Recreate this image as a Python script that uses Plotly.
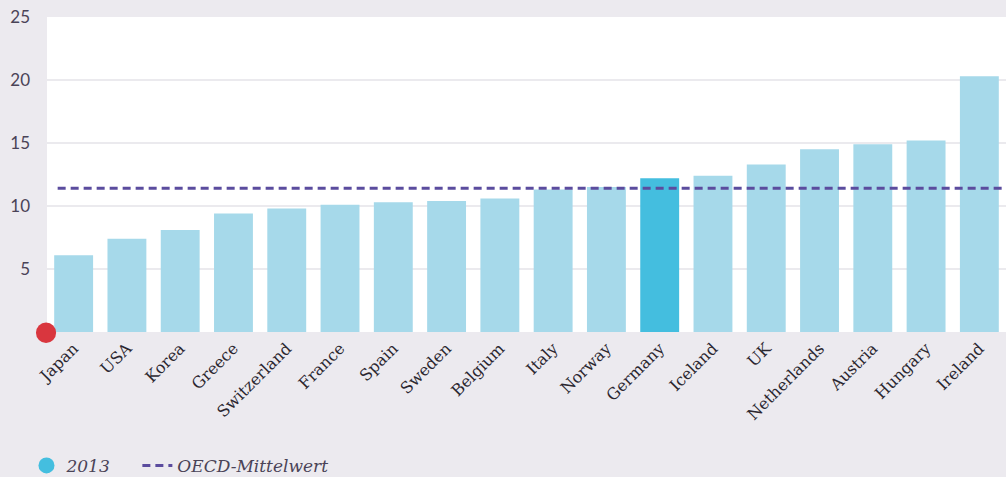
import plotly.graph_objects as go

# Daten
countries = ["Japan", "USA", "Korea", "Greece", "Switzerland", "France", "Spain",
             "Sweden", "Belgium", "Italy", "Norway", "Germany", "Iceland", "UK",
             "Netherlands", "Austria", "Hungary", "Ireland"]
values_2013 = [6.1, 7.4, 8.1, 9.4, 9.8, 10.1, 10.3, 10.4, 10.6, 11.3, 11.5,
               12.2, 12.4, 13.3, 14.5, 14.9, 15.2, 20.3]
oecd_mean = 11.4
highlight = "Germany"

y_ticks = [5, 10, 15, 20, 25]

bg = "#ECEAEF"
light_blue = "#A6D9EA"
strong_blue = "#44BEDF"
purple = "#5B4C9E"
text_col = "#4A4357"

x_idx = list(range(len(countries)))
bar_colors = [strong_blue if c == highlight else light_blue for c in countries]

fig = go.Figure()

fig.add_trace(go.Bar(
    x=x_idx, y=values_2013,
    marker=dict(color=bar_colors, line=dict(width=0)),
    showlegend=False,
    hoverinfo="x+y",
))

# Legendeneintrag mit Kreis (geschützte Leerzeichen als Abstand)
fig.add_trace(go.Scatter(
    x=[None], y=[None], mode="markers", name="2013" + "\u00a0" * 4,
    marker=dict(color=strong_blue, size=20, symbol="circle"),
))

# OECD-Mittelwert
fig.add_trace(go.Scatter(
    x=[-0.3, len(countries) - 0.5], y=[oecd_mean, oecd_mean],
    mode="lines", name="OECD-Mittelwert",
    line=dict(color=purple, width=3, dash="8px,5px"),
    cliponaxis=False,
))

fig.update_layout(
    width=1006, height=477,
    paper_bgcolor=bg, plot_bgcolor="white",
    margin=dict(l=47, r=0, t=17, b=145, autoexpand=False),
    bargap=0.27,
    xaxis=dict(
        range=[-0.5, len(countries) - 0.5],
        tickmode="array", tickvals=x_idx, ticktext=countries,
        tickangle=-45,
        tickfont=dict(family="DejaVu Serif", size=16, color="#2b2730"),
        showgrid=False, zeroline=False, showline=False, ticks="",
        ticklabelstandoff=3,
    ),
    yaxis=dict(
        range=[0, 25],
        tickvals=y_ticks,
        tickfont=dict(family="Lato", size=17, color=text_col),
        gridcolor="#EBEAEE", gridwidth=1.5,
        zeroline=False, showline=False, ticks="",
        ticklabelstandoff=16,
    ),
    legend=dict(
        orientation="h", x=-0.0214, xanchor="left", y=-0.425, yanchor="middle",
        font=dict(family="DejaVu Serif", size=17, color=text_col, style="italic"),
        bgcolor="rgba(0,0,0,0)",
    ),
    shapes=[dict(
        type="circle", xref="paper", yref="paper",
        x0=-0.0115, x1=0.0095, y0=-0.035, y1=0.03,
        fillcolor="#D9363E", line=dict(width=0),
    )],
)

fig.write_html("out.html", config={"displayModeBar": False},
               post_script="document.body.style.margin='0';")
